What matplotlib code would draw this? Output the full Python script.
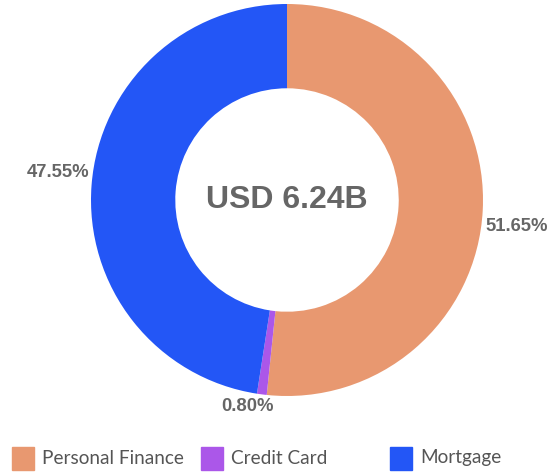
import numpy as np
import matplotlib
matplotlib.use('Agg')
import matplotlib.pyplot as plt
import matplotlib.patches as mpatches

categories = ['Personal Finance', 'Credit Card', 'Mortgage']
shares = [51.65, 0.80, 47.55]
colors = ['#E89870', '#AB57E9', '#2356F6']
center_label = 'USD 6.24B'

W, H = 559, 472
fig = plt.figure(figsize=(W / 100, H / 100), dpi=100)

# donut centre ~ (287, 200) px from top, outer radius ~196 px
cx, cy, r = 287, 200, 196
ax = fig.add_axes([(cx - r) / W, (H - cy - r) / H, 2 * r / W, 2 * r / H])
wedges, _ = ax.pie(shares, colors=colors, startangle=90, counterclock=False,
                   radius=1, wedgeprops=dict(width=0.43, linewidth=0))
ax.set_xlim(-1, 1)
ax.set_ylim(-1, 1)
ax.set_aspect('equal')
ax.axis('off')

ax.text(0, 0, center_label, ha='center', va='center', fontsize=23,
        fontweight='bold', color='#666666', family='Liberation Sans')

# percentage labels just outside each slice
for w, s in zip(wedges, shares):
    ang = np.deg2rad((w.theta1 + w.theta2) / 2 - 4)
    x, y = np.cos(ang) * 1.02, np.sin(ang) * 1.02
    if abs(np.cos(ang)) < 0.3:
        ha, va = 'center', 'top' if y < 0 else 'bottom'
    else:
        ha, va = ('left' if x > 0 else 'right'), 'center'
    ax.text(x, y - 0.01, f'{s:.2f}%', ha=ha, va=va, fontsize=13.3, fontweight='bold',
            color='#666666', family='Liberation Sans', clip_on=False)

# legend across the bottom in equal columns
for i, (name, c) in enumerate(zip(categories, colors)):
    x0 = 12 + i * 189
    fig.patches.append(mpatches.Rectangle((x0 / W, (H - 470) / H), 22 / W, 23 / H,
                                          transform=fig.transFigure, color=c))
    fig.text((x0 + 30) / W, (H - 458) / H, name, ha='left', va='center',
             fontsize=13.7, color='#555555', family='Lato')

fig.savefig('out.png', dpi=100)
